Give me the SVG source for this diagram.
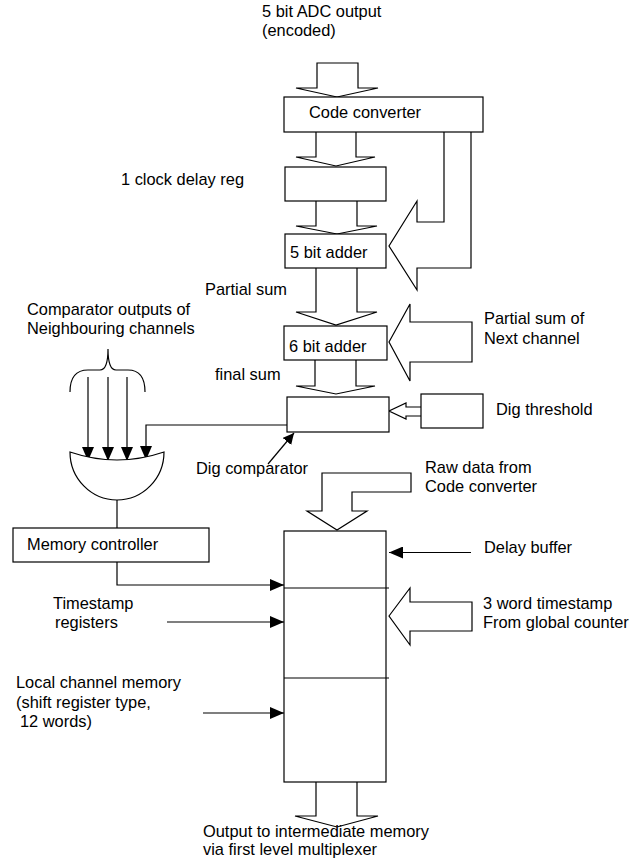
<svg xmlns="http://www.w3.org/2000/svg" width="641" height="864" viewBox="0 0 641 864">
<style>
text{font-family:"Liberation Sans",Arial,sans-serif;font-size:16.4px;fill:#000}
.box{fill:#fff;stroke:#000;stroke-width:1.2}
.bus{fill:#fff;stroke:#000;stroke-width:1.2;stroke-linejoin:miter}
.ln{fill:none;stroke:#000;stroke-width:1.2}
</style>
<defs>
<marker id="ah" markerUnits="userSpaceOnUse" markerWidth="14" markerHeight="12" refX="14" refY="6" orient="auto">
<path d="M0,0 L14,6 L0,12 z" fill="#000"/>
</marker>
<marker id="ahs" markerUnits="userSpaceOnUse" markerWidth="11" markerHeight="11" refX="11" refY="5.5" orient="auto">
<path d="M0,0 L11,5.5 L0,11 z" fill="#000"/>
</marker>
</defs>
<rect width="641" height="864" fill="#fff"/>

<g id="connectors">
<polygon class="bus" points="317,63 358,63 358,88 378,88 337,97 296,88 317,88"/>
<path class="bus" d="M316,132 V157 H296 L336,166 L375,157 H356 V132"/>
<path class="bus" d="M316,201 V226 H296 L337,234 L377,226 H357 V201"/>
<path class="bus" d="M316,268 V312 H296 L336,325 L377,312 H357 V268"/>
<path class="bus" d="M315,360 V386 H296 L336,394 L375,386 H356 V360"/>
<path class="bus" d="M444,132 V222 H417 V201 L389,246 L417,290 V268 H471 V132"/>
<polygon class="bus" points="389,342 410,304 410,322 472,322 472,362 410,362 410,381"/>
<path class="bus" d="M421,407 H406 V403 L389,411 L406,419 V416 H421"/>
<polygon class="bus" points="322,473 411,473 411,492 352,492 352,511 367,511 337,530 307,511 322,511"/>
<polygon class="bus" points="389,616 410,588 410,602 472,602 472,631 410,631 410,645"/>
<path class="bus" d="M316,782 V816 H295 L337,827 L378,816 H357 V782"/>
<path class="ln" d="M70,392 Q70,370 88,370 L100,370 Q108,370 108,349 Q108,370 116,370 L128,370 Q145,370 145,392"/>
<line class="ln" x1="88" y1="377" x2="88" y2="461" marker-end="url(#ah)"/>
<line class="ln" x1="108" y1="377" x2="108" y2="461" marker-end="url(#ah)"/>
<line class="ln" x1="127" y1="377" x2="127" y2="461" marker-end="url(#ah)"/>
<path class="ln" d="M288,425 H146 V460" marker-end="url(#ah)"/>
<line class="ln" x1="268" y1="464" x2="294" y2="433" marker-end="url(#ahs)"/>
<line class="ln" x1="117" y1="500" x2="117" y2="528"/>
<path class="ln" d="M117,562 V585 H284" marker-end="url(#ah)"/>
<line class="ln" x1="167" y1="622" x2="284" y2="622" marker-end="url(#ah)"/>
<line class="ln" x1="203" y1="713" x2="284" y2="713" marker-end="url(#ah)"/>
<line class="ln" x1="471" y1="552.5" x2="389" y2="552.5" marker-end="url(#ah)"/>
</g>

<g id="code-converter">
<rect class="box" x="284" y="97" width="199" height="35"/>
<text x="309" y="118">Code converter</text>
</g>
<g id="delay-reg">
<rect class="box" x="285" y="167" width="101" height="34"/>
</g>
<g id="adder5">
<rect class="box" x="285" y="234" width="101" height="34"/>
<text x="290" y="258">5 bit adder</text>
</g>
<g id="adder6">
<rect class="box" x="284" y="326" width="103" height="34"/>
<text x="289" y="352">6 bit adder</text>
</g>
<g id="dig-comparator">
<rect class="box" x="287" y="397" width="102" height="35"/>
</g>
<g id="dig-threshold">
<rect class="box" x="421" y="394" width="62" height="34"/>
</g>
<g id="or-gate">
<path class="box" d="M70,452 Q117,468 164,452 A47,48 0 0 1 70,452 Z"/>
</g>
<g id="memory-controller">
<rect class="box" x="13" y="528" width="196" height="34"/>
<text x="27" y="550">Memory controller</text>
</g>
<g id="memory">
<rect class="box" x="284" y="531" width="102" height="251"/>
<line class="ln" x1="284" y1="588" x2="389" y2="588"/>
<line class="ln" x1="284" y1="678" x2="389" y2="678"/>
</g>

<g id="labels">
<text x="262" y="17">5 bit ADC output</text>
<text x="262" y="36">(encoded)</text>
<text x="121" y="185">1 clock delay reg</text>
<text x="205" y="295">Partial sum</text>
<text x="27" y="315">Comparator outputs of</text>
<text x="27" y="334">Neighbouring channels</text>
<text x="484" y="324">Partial sum of</text>
<text x="484" y="344">Next channel</text>
<text x="215" y="380">final sum</text>
<text x="496" y="415">Dig threshold</text>
<text x="196" y="474">Dig comparator</text>
<text x="425" y="473">Raw data from</text>
<text x="425" y="492">Code converter</text>
<text x="484" y="553">Delay buffer</text>
<text x="53" y="609">Timestamp</text>
<text x="55" y="628">registers</text>
<text x="483" y="609">3 word timestamp</text>
<text x="483" y="628">From global counter</text>
<text x="16" y="688">Local channel memory</text>
<text x="16" y="707.5">(shift register type,</text>
<text x="20" y="726.5">12 words)</text>
<text x="203" y="836.5">Output to intermediate memory</text>
<text x="203" y="855">via first level multiplexer</text>
</g>
</svg>
